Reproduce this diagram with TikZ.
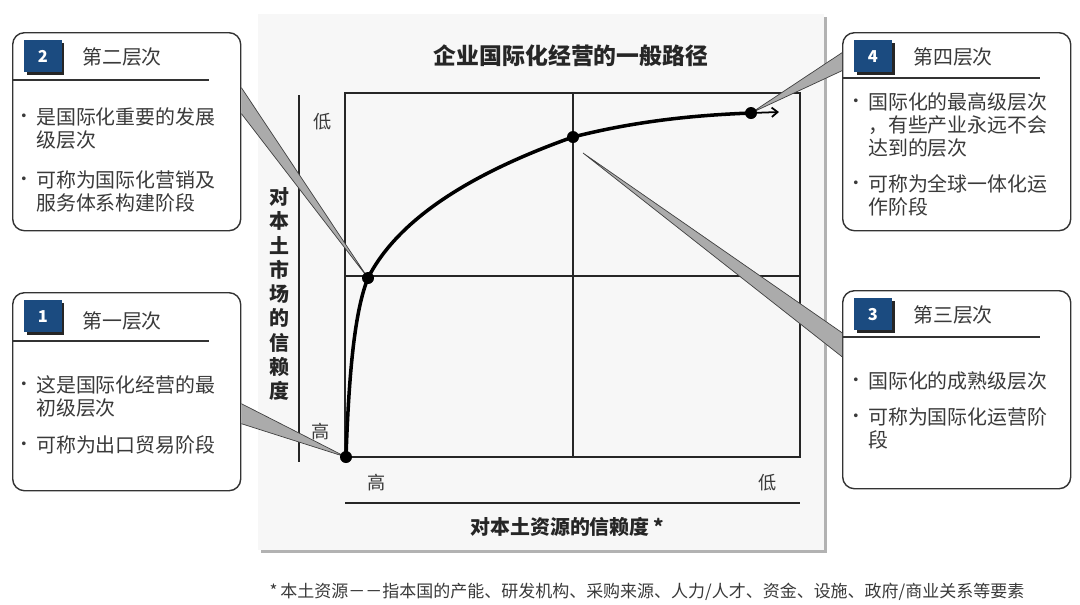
\documentclass[tikz,border=0pt]{standalone}
\usepackage{fontspec}
\setmainfont{Noto Sans CJK SC}
\usetikzlibrary{arrows.meta,shadows}

\definecolor{badgeblue}{HTML}{1B4B80}
\definecolor{panelgray}{HTML}{F7F7F7}
\definecolor{textgray}{HTML}{3A3A3A}
\definecolor{wedgegray}{HTML}{ABABAB}
\newcommand{\bul}{\llap{\raisebox{1.5pt}{\fontsize{15}{15}\selectfont •}\hspace{3pt}}}

\tikzset{
  stagebox/.style={draw=black!80, line width=1.2pt, rounded corners=10pt, fill=white,
    minimum width=6.84cm, minimum height=5.94cm, anchor=north west, inner sep=0pt},
  badge/.style={fill=badgeblue, minimum width=1.12cm, minimum height=0.95cm, inner sep=0pt,
    anchor=north west, text=white, font=\fontsize{14}{14}\selectfont\bfseries,
    drop shadow={shadow xshift=2.5pt, shadow yshift=-2.5pt, fill=black!85, opacity=1}},
  headtext/.style={anchor=west, inner sep=0pt, text=textgray, font=\fontsize{17}{17}\selectfont},
  bodytext/.style={anchor=west, inner sep=0pt, align=left, text=textgray, font=\fontsize{17}{19.6}\selectfont},
  ticktext/.style={inner sep=0pt, text=textgray, font=\fontsize{15.5}{15.5}\selectfont},
  wedge/.style={fill=wedgegray, draw=black!75, line width=0.6pt, line join=miter},
}

\begin{document}
\begin{tikzpicture}[x=0.03cm, y=-0.03cm]

% Page and chart panel
\useasboundingbox (0,0) rectangle (1080,604);
\fill[white] (0,0) rectangle (1080,604);
\fill[black!30] (261,17) rectangle (827,553);
\fill[panelgray] (258,14) rectangle (824,550);

% Title
\node[font=\fontsize{19.5}{19.5}\selectfont\bfseries, text=black!85] (title) at (571,56) {企业国际化经营的一般路径};

% Draw the grid
\draw[line width=1.3pt, black!85] (345,93) rectangle (800,457);
\draw[line width=1pt, black!85] (573,93) -- (573,457);
\draw[line width=1pt, black!85] (345,276) -- (800,276);

% Draw the axes and their labels
\draw[line width=1.3pt, black!85] (299,95) -- (299,462);
\draw[line width=1.3pt, black!85] (345,503) -- (800,503);
\node[ticktext] (ylow) at (323,122) {低};
\node[ticktext] (yhigh) at (321,432) {高};
\node[ticktext] (xhigh) at (377,483) {高};
\node[ticktext] (xlow) at (768,483) {低};
\node[align=center, inner sep=0pt, font=\fontsize{17}{20.7}\selectfont\bfseries, text=black!85] (ytitle) at (279,294)
  {对\\本\\土\\市\\场\\的\\信\\赖\\度};
\node[inner sep=0pt, font=\fontsize{17}{17}\selectfont\bfseries, text=black!85] (xtitle) at (567,527) {对本土资源的信赖度\,*};

% The path of the four stages
\coordinate (s1) at (346,457);
\coordinate (s2) at (368,278);
\coordinate (s3) at (573,137);
\coordinate (s4) at (751,113);
\coordinate (tip) at (779,112);
\draw[line width=3pt, line cap=round] (s1) .. controls (349,370) and (355,310) .. (s2)
  .. controls (400,215) and (480,170) .. (s3)
  .. controls (640,120) and (700,115) .. (s4);
\draw[line width=1.5pt, -{Straight Barb[length=5pt, width=8pt]}] (s4) -- (tip);

% Box 2
\node[stagebox] (box2) at (12,32) {};
\node[badge] (badge2) at (24,40) {2};
\node[headtext] (head2) at (82,57) {第二层次};
\draw[line width=1pt, black!80] (12,80) -- (209,80);
\node[bodytext] (text2a) at (36,128.5) {\bul 是国际化重要的发展\\级层次};
\node[bodytext] (text2b) at (36,191) {\bul 可称为国际化营销及\\服务体系构建阶段};

% Box 1
\node[stagebox] (box1) at (12,292) {};
\node[badge] (badge1) at (24,300) {1};
\node[headtext] (head1) at (82,321) {第一层次};
\draw[line width=1pt, black!80] (12,341) -- (209,341);
\node[bodytext] (text1a) at (36,396.5) {\bul 这是国际化经营的最\\初级层次};
\node[bodytext] (text1b) at (36,445) {\bul 可称为出口贸易阶段};

% Box 4
\node[stagebox] (box4) at (842,32) {};
\node[badge] (badge4) at (854,40) {4};
\node[headtext] (head4) at (913,57) {第四层次};
\draw[line width=1pt, black!80] (842,78) -- (1040,78);
\node[bodytext] (text4a) at (868,125) {\bul 国际化的最高级层次\\，有些产业永远不会\\达到的层次};
\node[bodytext] (text4b) at (868,195) {\bul 可称为全球一体化运\\作阶段};

% Box 3
\node[stagebox] (box3) at (842,290) {};
\node[badge] (badge3) at (854,298) {3};
\node[headtext] (head3) at (913,315) {第三层次};
\draw[line width=1pt, black!80] (842,337) -- (1040,337);
\node[bodytext] (text3a) at (868,381) {\bul 国际化的成熟级层次};
\node[bodytext] (text3b) at (868,428) {\bul 可称为国际化运营阶\\段};

% Callout wedges from the boxes to the stages
\filldraw[wedge] ([yshift=1.32cm]box2.east) -- (s2) -- ([yshift=0.54cm]box2.east);
\filldraw[wedge] ([yshift=-0.36cm]box1.east) -- (s1) -- ([yshift=-0.96cm]box1.east);
\filldraw[wedge] ([yshift=2.37cm]box4.west) -- (s4) -- ([yshift=1.83cm]box4.west);
\filldraw[wedge] ([yshift=1.71cm]box3.west) -- ([shift={(10,16)}]s3) -- ([yshift=0.99cm]box3.west);

% Stage dots
\fill (s1) circle [radius=6];
\fill (s2) circle [radius=6];
\fill (s3) circle [radius=6];
\fill (s4) circle [radius=6];

% Footnote
\node[inner sep=0pt, text=textgray, font=\fontsize{14.5}{14.5}\selectfont] (note) at (647,592)
  {*\,本土资源－－指本国的产能、研发机构、采购来源、人力/人才、资金、设施、政府/商业关系等要素};

\end{tikzpicture}
\end{document}
